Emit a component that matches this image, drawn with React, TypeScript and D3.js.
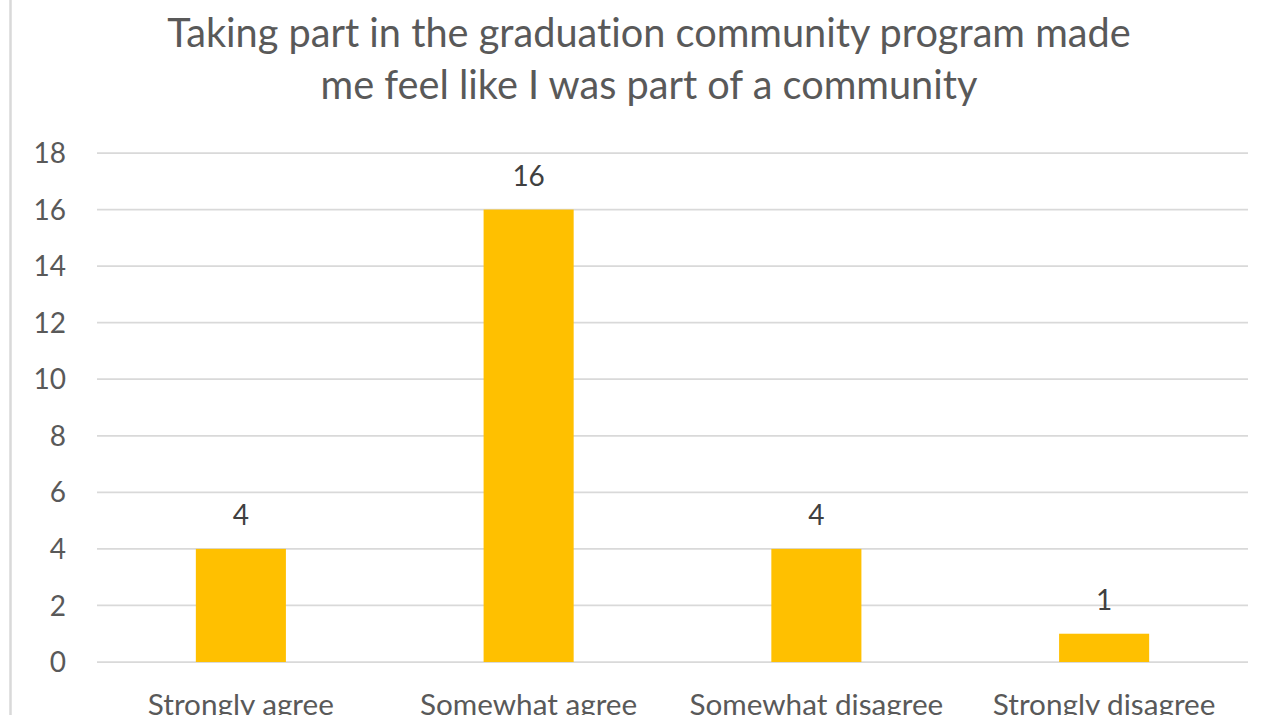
import React from "react";
import * as d3 from "d3";

const titleLines = [
  "Taking part in the graduation community program made",
  "me feel like I was part of a community",
];
const categories = ["Strongly agree", "Somewhat agree", "Somewhat disagree", "Strongly disagree"];
const values = [4, 16, 4, 1];
const yTicks = [0, 2, 4, 6, 8, 10, 12, 14, 16, 18];

const W = 1277;
const H = 715;
const FONT = "Lato, 'Open Sans', sans-serif";

export default function App() {
  const x = d3
    .scaleBand<string>()
    .domain(categories)
    .range([97, 1248])
    .paddingInner(0.687)
    .paddingOuter(0.687 / 2);
  const y = d3.scaleLinear().domain([0, 18]).range([662, 153]);

  return (
    <svg
      width={W}
      height={H}
      style={{ position: "absolute", left: 0, top: 0, background: "#fff", fontVariantLigatures: "none" }}
      fontFamily={FONT}
    >
      <rect x={0} y={0} width={W} height={H} fill="#fff" />
      <line x1={10.5} x2={10.5} y1={0} y2={H} stroke="#d9d9d9" strokeWidth={2.5} />
      {titleLines.map((t, i) => (
        <text
          key={i}
          x={649}
          y={47 + i * 52}
          textAnchor="middle"
          fontSize={39.7}
          fill="#595959"
        >
          {t}
        </text>
      ))}
      {yTicks.map((t) => (
        <g key={t}>
          <line x1={97} x2={1248} y1={y(t)} y2={y(t)} stroke="#d9d9d9" strokeWidth={1.75} />
          <text
            x={66}
            y={y(t)}
            dy="0.36em"
            textAnchor="end"
            fontSize={28}
            fill="#595959"
          >
            {t}
          </text>
        </g>
      ))}
      {categories.map((c, i) => (
        <g key={c}>
          <rect
            x={x(c)!}
            y={y(values[i])}
            width={x.bandwidth()}
            height={y(0) - y(values[i])}
            fill="#FFC000"
          />
          <text
            x={x(c)! + x.bandwidth() / 2}
            y={y(values[i]) - 24}
            textAnchor="middle"
            fontSize={28}
            fill="#404040"
          >
            {values[i]}
          </text>
          <text
            x={x(c)! + x.bandwidth() / 2}
            y={715}
            textAnchor="middle"
            fontSize={29.7}
            fill="#595959"
          >
            {c}
          </text>
        </g>
      ))}
    </svg>
  );
}
